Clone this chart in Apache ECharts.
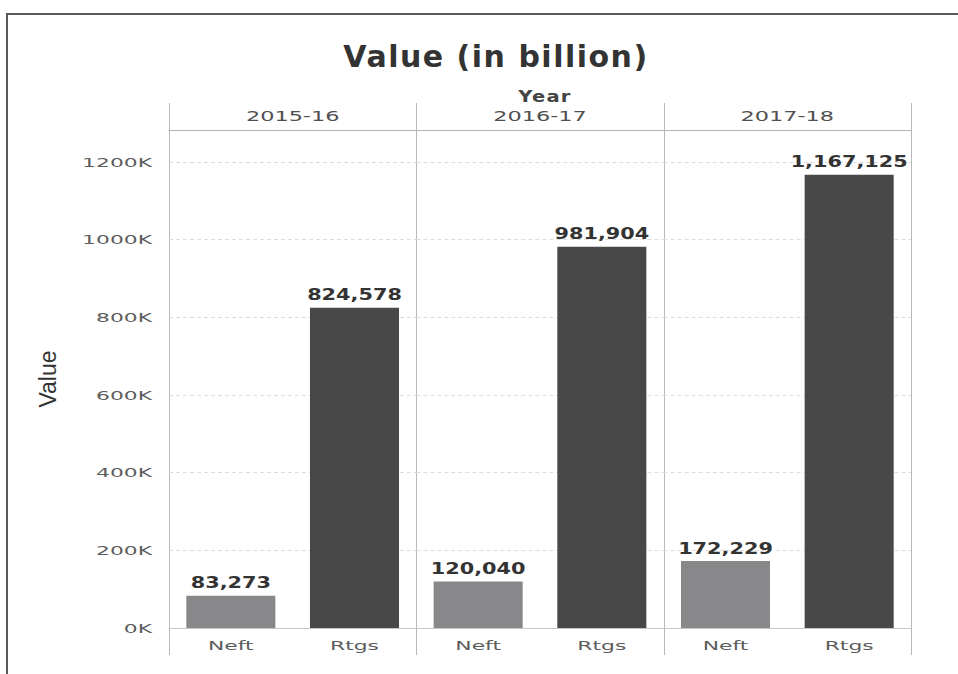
<!DOCTYPE html>
<html>
<head>
<meta charset="utf-8">
<title>Value (in billion)</title>
<script src="https://cdn.jsdelivr.net/npm/echarts@6/dist/echarts.min.js"></script>
<style>
  html, body { margin: 0; padding: 0; background: #ffffff; }
  #chart { width: 958px; height: 674px; }
  #chart text[style*="30px"] { letter-spacing: 1.5px; }
  #chart text[style*="15px"] { letter-spacing: 1px; }
</style>
</head>
<body>
<div id="chart"></div>
<script>
// Payment value by year and channel (in billion)
const years = ['2015-16', '2016-17', '2017-18'];
const modes = ['Neft', 'Rtgs'];
const neft = [83273, 120040, 172229];
const rtgs = [824578, 981904, 1167125];
const valueTicks = [0, 200000, 400000, 600000, 800000, 1000000, 1200000];

const modeColors = { Neft: '#88888a', Rtgs: '#484848' };

// panel layout
const plotLeft = 167, plotRight = 909;
const plotTop = 130, plotBottom = 628;
const panelW = (plotRight - plotLeft) / years.length;
const tickStep = valueTicks[1] - valueTicks[0];
// header band sits above the top tick; extend the value range to reach it
const pxPerUnit = (plotBottom - 162) / valueTicks[valueTicks.length - 1];
const yMax = Math.round((plotBottom - plotTop) / pxPerUnit);

const font = 'DejaVu Sans';
const fmtK = v => (v % tickStep === 0 ? (v / 1000) + 'K' : '');
const fmtNum = v => Number(v).toLocaleString('en-US');

const grid = [], xAxis = [], yAxis = [], series = [];
years.forEach((yr, i) => {
  grid.push({
    left: plotLeft + 2 + i * panelW,
    width: panelW,
    top: plotTop,
    bottom: 674 - plotBottom
  });
  // channel categories along the bottom
  xAxis.push({
    type: 'category',
    gridIndex: i,
    data: modes,
    position: 'bottom',
    axisLine: { show: true, lineStyle: { color: '#c8c8c8', width: 1 } },
    axisTick: { show: false },
    axisLabel: { color: '#5c5c5c', fontFamily: font, fontSize: 13, margin: 11 },
    splitLine: { show: false }
  });
  // year header above each panel
  xAxis.push({
    type: 'category',
    gridIndex: i,
    data: [yr],
    position: 'top',
    axisLine: { show: true, lineStyle: { color: '#b4b4b4', width: 1 } },
    axisTick: { show: false },
    axisLabel: { color: '#505050', fontFamily: font, fontSize: 14, margin: 7 },
    splitLine: { show: false }
  });
  yAxis.push({
    type: 'value',
    gridIndex: i,
    min: 0,
    max: yMax,
    interval: tickStep,
    name: i === 0 ? 'Value' : '',
    nameLocation: 'middle',
    nameGap: 110,
    nameRotate: 90,
    nameTextStyle: { color: '#333333', fontFamily: 'Liberation Sans', fontSize: 23 },
    axisLine: { show: false },
    axisTick: { show: false },
    axisLabel: {
      show: i === 0,
      color: '#5c5c5c',
      fontFamily: font,
      fontSize: 13,
      margin: 17,
      formatter: fmtK
    },
    splitLine: {
      show: true,
      lineStyle: { color: '#dcdcdc', type: [4, 3], width: 1 }
    }
  });
  series.push({
    type: 'bar',
    xAxisIndex: i * 2,
    yAxisIndex: i,
    barWidth: '72%',
    data: modes.map((m, j) => ({
      value: (j === 0 ? neft : rtgs)[i],
      itemStyle: { color: modeColors[m] }
    })),
    label: {
      show: true,
      position: 'top',
      distance: 5,
      color: '#333333',
      fontFamily: font,
      fontWeight: 'bold',
      fontSize: 16,
      formatter: p => fmtNum(p.value)
    },
    silent: true
  });
});

// panel separators and outer frame
const graphic = [];
for (let k = 0; k <= years.length; k++) {
  const x = Math.round(plotLeft + 2 + k * panelW) + 0.5;
  graphic.push({
    type: 'line',
    shape: { x1: x, y1: 103, x2: x, y2: 655 },
    style: { stroke: '#b8b8b8', lineWidth: 1 },
    silent: true
  });
}
graphic.push({
  type: 'polyline',
  shape: { points: [[7, 674], [7, 14], [958, 14]] },
  style: { stroke: '#5a5a5a', lineWidth: 2, fill: null },
  silent: true
});

const chart = echarts.init(document.getElementById('chart'), null, { renderer: 'svg' });
chart.setOption({
  backgroundColor: '#ffffff',
  animation: false,
  title: [
    {
      text: 'Value (in billion)',
      left: 491,
      top: 36,
      textAlign: 'center',
      textStyle: { color: '#333333', fontFamily: font, fontWeight: 'bold', fontSize: 30 }
    },
    {
      text: 'Year',
      left: (plotLeft + plotRight) / 2 + 2,
      top: 84,
      textAlign: 'center',
      textStyle: { color: '#444444', fontFamily: font, fontWeight: 'bold', fontSize: 15 }
    }
  ],
  grid: grid,
  xAxis: xAxis,
  yAxis: yAxis,
  series: series,
  graphic: graphic
});

// Extended lettering: widen axis, header and value labels horizontally
// around their own anchor point.
const widen = { '13px': 1.68, '14px': 1.6, '15px': 1.3, '16px': 1.3 };
function stretchLabels() {
  const svg = document.querySelector('#chart svg');
  if (!svg) return;
  svg.querySelectorAll('text').forEach(t => {
    if (t.getAttribute('data-wide')) return;
    const st = t.getAttribute('style') || '';
    let s = 0;
    Object.keys(widen).forEach(k => { if (st.indexOf(k) >= 0) s = widen[k]; });
    if (!s) return;
    const x = parseFloat(t.getAttribute('x') || '0') || 0;
    const tr = t.getAttribute('transform') || '';
    t.setAttribute('transform',
      tr + ' translate(' + x + ' 0) scale(' + s + ' 1) translate(' + (-x) + ' 0)');
    t.setAttribute('data-wide', '1');
  });
}
stretchLabels();
chart.on('finished', stretchLabels);
</script>
</body>
</html>
